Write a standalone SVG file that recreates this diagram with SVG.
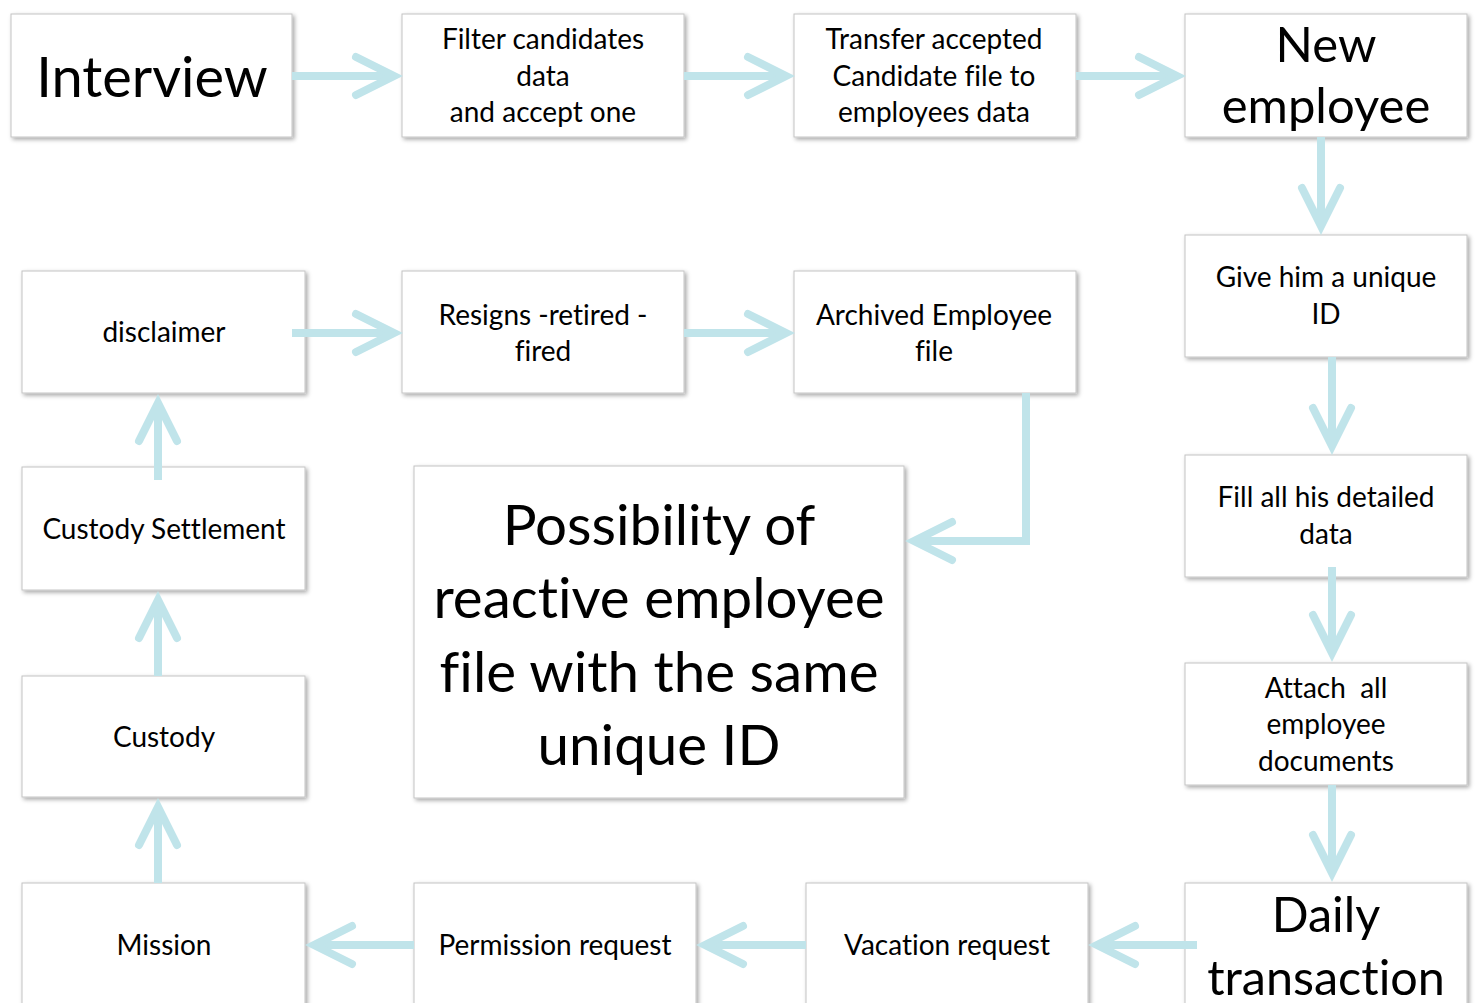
<svg xmlns="http://www.w3.org/2000/svg" width="1478" height="1003" viewBox="0 0 1478 1003">
<style>
.box{fill:#fff;stroke:#c4c4c4;stroke-width:1;filter:url(#sh)}
.t{font-family:Lato,"Open Sans",sans-serif;fill:#000;text-anchor:middle;font-variant-ligatures:none}
.s{font-size:28px}
.conn{fill:none;stroke:#c0e4ea;stroke-width:8;marker-end:url(#ah)}
</style>
<defs>
<filter id="sh" x="-10%" y="-10%" width="120%" height="120%">
<feDropShadow dx="2" dy="2" stdDeviation="2" flood-color="#000" flood-opacity="0.35"/>
</filter>
<marker id="ah" markerUnits="userSpaceOnUse" orient="auto" viewBox="-50 -30 80 60" markerWidth="80" markerHeight="60" refX="0" refY="0" overflow="visible">
<path d="M-34,-19 L4,0 L-34,19" fill="none" stroke="#c0e4ea" stroke-width="8" stroke-linecap="round" stroke-linejoin="miter"/>
</marker>
</defs>
<g id="n-interview"><rect class="box" x="11" y="14" width="281" height="123"/><text class="t" x="152" y="97" font-size="56">Interview</text></g>
<g id="n-filter"><rect class="box" x="402" y="14" width="282" height="123"/><text class="t s" x="543" y="49">Filter candidates</text><text class="t s" x="543" y="86">data</text><text class="t s" x="543" y="122">and accept one</text></g>
<g id="n-transfer"><rect class="box" x="794" y="14" width="282" height="123"/><text class="t s" x="934" y="49">Transfer accepted</text><text class="t s" x="934" y="86">Candidate file to</text><text class="t s" x="934" y="122">employees data</text></g>
<g id="n-new"><rect class="box" x="1185" y="14" width="282" height="123"/><text class="t" x="1326" y="62" font-size="49">New</text><text class="t" x="1326" y="123" font-size="49">employee</text></g>
<g id="n-give"><rect class="box" x="1185" y="235" width="282" height="122"/><text class="t s" x="1326" y="287">Give him a unique</text><text class="t s" x="1326" y="324">ID</text></g>
<g id="n-fill"><rect class="box" x="1185" y="455" width="282" height="122"/><text class="t s" x="1326" y="507">Fill all his detailed</text><text class="t s" x="1326" y="544">data</text></g>
<g id="n-attach"><rect class="box" x="1185" y="663" width="282" height="122"/><text class="t s" x="1326" y="698" xml:space="preserve">Attach  all</text><text class="t s" x="1326" y="734">employee</text><text class="t s" x="1326" y="771">documents</text></g>
<g id="n-daily"><rect class="box" x="1185" y="883" width="282" height="130"/><text class="t" x="1326" y="932" font-size="48.5">Daily</text><text class="t" x="1326" y="995" font-size="48.5">transaction</text></g>
<g id="n-vacation"><rect class="box" x="806" y="883" width="282" height="130"/><text class="t s" x="947" y="955">Vacation request</text></g>
<g id="n-permission"><rect class="box" x="414" y="883" width="282" height="130"/><text class="t s" x="555" y="955">Permission request</text></g>
<g id="n-mission"><rect class="box" x="22" y="883" width="283" height="130"/><text class="t s" x="164" y="955">Mission</text></g>
<g id="n-custody"><rect class="box" x="22" y="676" width="283" height="121"/><text class="t s" x="164" y="747">Custody</text></g>
<g id="n-settlement"><rect class="box" x="22" y="467" width="283" height="123"/><text class="t s" x="164" y="539">Custody Settlement</text></g>
<g id="n-disclaimer"><rect class="box" x="22" y="271" width="283" height="122"/><text class="t s" x="164" y="342">disclaimer</text></g>
<g id="n-resigns"><rect class="box" x="402" y="271" width="282" height="122"/><text class="t s" x="543" y="325">Resigns -retired -</text><text class="t s" x="543" y="361">fired</text></g>
<g id="n-archived"><rect class="box" x="794" y="271" width="282" height="122"/><text class="t s" x="934" y="325">Archived Employee</text><text class="t s" x="934" y="361">file</text></g>
<g id="n-possibility"><rect class="box" x="414" y="466" width="490" height="332"/><text class="t" x="659" y="545" font-size="56.5">Possibility of</text><text class="t" x="659" y="618" font-size="56.5">reactive employee</text><text class="t" x="659" y="692" font-size="56.5">file with the same</text><text class="t" x="659" y="765" font-size="56.5">unique ID</text></g>
<g id="connectors">
<path class="conn" d="M292,76 H390"/>
<path class="conn" d="M684,76 H782"/>
<path class="conn" d="M1076,76 H1173"/>
<path class="conn" d="M1321,137 V222"/>
<path class="conn" d="M1332,357 V442"/>
<path class="conn" d="M1332,567 V649"/>
<path class="conn" d="M1332,785 V869"/>
<path class="conn" d="M1197,945 H1101"/>
<path class="conn" d="M806,945 H709"/>
<path class="conn" d="M414,945 H318"/>
<path class="conn" d="M158,883 V811"/>
<path class="conn" d="M158,676 V604"/>
<path class="conn" d="M158,480 V407"/>
<path class="conn" d="M292,333 H390"/>
<path class="conn" d="M684,333 H782"/>
<path class="conn" d="M1026,393 V541 H918"/>
</g>
</svg>
